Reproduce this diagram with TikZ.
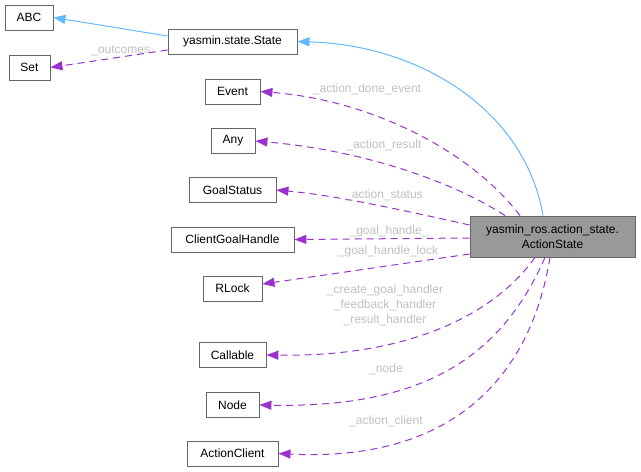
\documentclass[tikz,border=0pt]{standalone}
\usepackage{fontspec}
\setmainfont{Liberation Sans}
\usetikzlibrary{arrows.meta}
\definecolor{inh}{HTML}{63B8FF}
\definecolor{use}{HTML}{9A32CD}
\definecolor{lbl}{HTML}{BFBFBF}
\definecolor{bord}{HTML}{666666}
\tikzset{
  cls/.style={draw=bord, fill=white, line width=0.9pt, inner sep=0pt, minimum height=25pt, font=\fontsize{12}{14}\selectfont, text=black},
  inhedge/.style={draw=inh, line width=1pt, -{Triangle[length=12pt,width=9pt]}},
  useedge/.style={draw=use, line width=1pt, dash pattern=on 7pt off 5pt, -{Triangle[length=12pt,width=9pt]}},
  elabel/.style={text=lbl, font=\fontsize{12}{13}\selectfont, align=center, inner sep=0pt}
}
\begin{document}
\begin{tikzpicture}[x=1pt,y=-1pt]
\useasboundingbox (0,0) rectangle (641,472);
\node[cls, minimum width=48pt] (abc) at (29,17.5) {ABC};
\node[cls, minimum width=41pt] (set) at (29.5,67.5) {Set};
\node[cls, minimum width=129pt] (state) at (232.5,41.5) {yasmin.state.State};
\node[cls, minimum width=55pt] (event) at (232.5,91.5) {Event};
\node[cls, minimum width=44pt] (any) at (233,141) {Any};
\node[cls, minimum width=87pt] (goalstatus) at (232.5,190) {GoalStatus};
\node[cls, minimum width=123pt] (cgh) at (232.5,239.5) {ClientGoalHandle};
\node[cls, minimum width=59pt] (rlock) at (232.5,288.5) {RLock};
\node[cls, minimum width=67pt] (callable) at (232.5,355) {Callable};
\node[cls, minimum width=53pt] (nodecls) at (232.5,405) {Node};
\node[cls, minimum width=91pt] (aclient) at (232.5,453.5) {ActionClient};
\node[cls, minimum width=165pt, minimum height=41pt, fill=black!40, align=center, font=\fontsize{12}{15}\selectfont] (as) at (552.5,236.5) {yasmin\_ros.action\_state.\\ActionState};

\draw[inhedge] (state.west |- 0,36) -- (abc.east);
\draw[useedge] (state.west |- 0,50) -- (set.east) node[elabel, pos=0.4, above=1pt] {\_outcomes};
\draw[inhedge] (as.north -| 543,0) .. controls (525,110) and (420,45) .. (state.east);
\draw[useedge] (as.north -| 520,0) .. controls (470,150) and (370,100) .. (event.east);
\node[elabel] at (367,89) {\_action\_done\_event};
\draw[useedge] (as.north -| 505,0) .. controls (450,180) and (360,150) .. (any.east);
\node[elabel] at (384,145) {\_action\_result};
\draw[useedge] (as.west |- 0,225) .. controls (380,205) and (330,195) .. (goalstatus.east);
\node[elabel] at (384,195) {\_action\_status};
\draw[useedge] (as.west |- 0,238) -- (cgh.east);
\node[elabel] at (389,231) {\_goal\_handle\_};
\draw[useedge] (as.west |- 0,254) -- (rlock.east |- 0,284);
\node[elabel] at (388,251) {\_goal\_handle\_lock};
\draw[useedge] (as.south -| 535,0) .. controls (490,320) and (400,357) .. (callable.east);
\node[elabel, font=\fontsize{12}{15}\selectfont] at (385,305) {\_create\_goal\_handler\\\_feedback\_handler\\\_result\_handler};
\draw[useedge] (as.south -| 545,0) .. controls (500,360) and (420,408) .. (nodecls.east);
\node[elabel] at (386,369) {\_node};
\draw[useedge] (as.south -| 550,0) .. controls (530,380) and (450,462) .. (aclient.east);
\node[elabel] at (386,421) {\_action\_client};
\end{tikzpicture}
\end{document}
